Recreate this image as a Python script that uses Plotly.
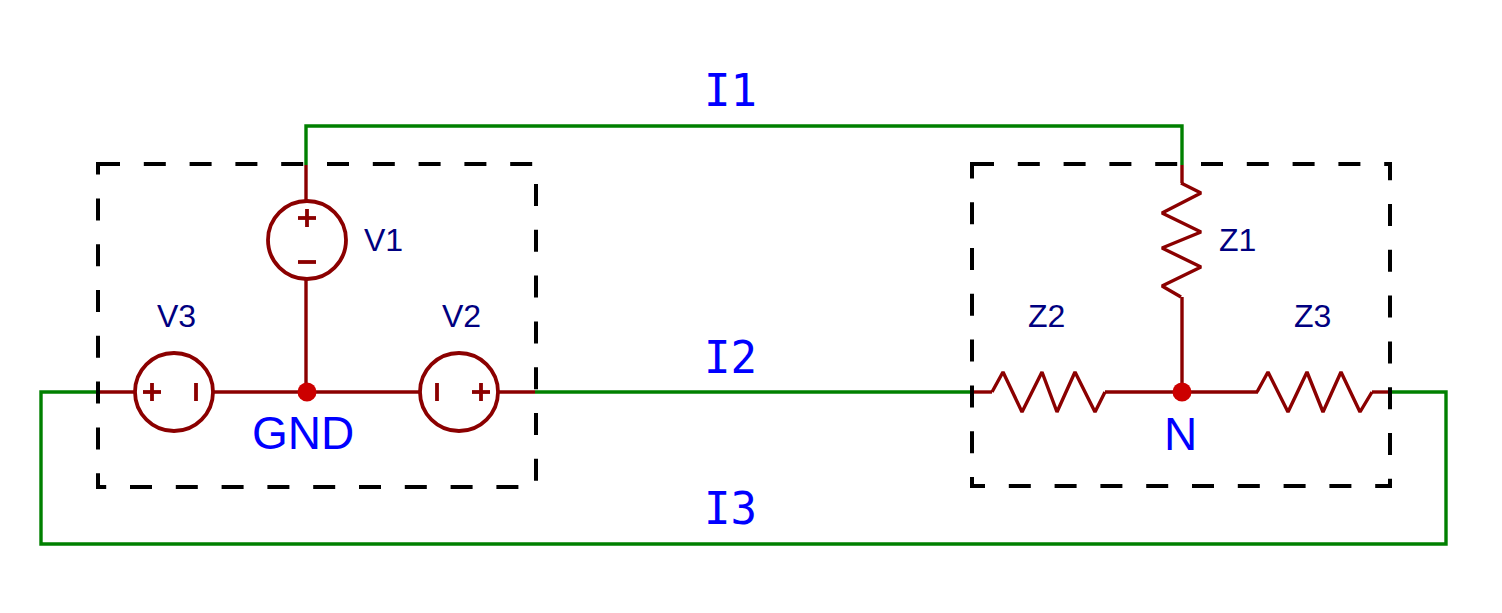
"""Esquema trifásico: fuentes en estrella (GND) y cargas en estrella (N)."""

import plotly.graph_objects as go

W, H = 1502, 613
PAD = 8  # margen del <body> en la página generada

GREEN = "#008000"
WIRE = "#8B0000"
DOT = "#CC0000"
NAVY = "#000080"
BLUE = "#0000FF"

# cables de línea (verde), coordenadas del dibujo en px
i1_x = [306, 306, 1182, 1182]
i1_y = [165, 126, 126, 165]
i2_x = [535, 972]
i2_y = [392, 392]
i3_x = [98, 41, 41, 1446, 1446, 1388]
i3_y = [392, 392, 544, 544, 392, 392]

# fuentes de tensión: centro y sentido del "+"
src_names = ["V1", "V2", "V3"]
src_cx = [307, 459, 174]
src_cy = [240, 392, 392]
src_plus = ["up", "right", "left"]
src_r = 39

# tramos rojos (tramos rectos dentro de las cajas)
red_x = [[306, 306], [306, 306], [98, 135], [213, 420], [498, 535],
         [1182, 1182], [1182, 1182], [972, 992], [1105, 1258], [1372, 1388]]
red_y = [[165, 201], [279, 392], [392, 392], [392, 392], [392, 392],
         [165, 183], [297, 392], [392, 392], [392, 392], [392, 392]]

# impedancias en zigzag
z1_x = [1181, 1201, 1162, 1201, 1162, 1201, 1162, 1181]
z1_y = [183, 193, 213, 232, 248, 267, 286, 297]
z2_x = [992, 1003, 1022, 1042, 1057, 1075, 1095, 1105]
z2_y = [392, 372, 412, 372, 412, 372, 412, 392]
z3_x = [1257, 1268, 1288, 1307, 1323, 1341, 1360, 1372]
z3_y = [392, 372, 412, 372, 412, 372, 412, 392]

# nodos
node_names = ["GND", "N"]
node_x = [307, 1182]
node_y = [392, 392]
node_lbl_y = [433, 434]
node_lbl_x = [303, 1180]

# cajas discontinuas [x0, x1, y0, y1]
boxes = [[98, 536, 164, 487], [972, 1390, 164, 486]]

# rótulos
comp_lbl = ["V1", "V3", "V2", "Z1", "Z2", "Z3"]
comp_lbl_x = [383, 176, 461, 1237, 1046, 1312]
comp_lbl_y = [240, 316, 316, 240, 316, 316]
cur_lbl = ["I1", "I2", "I3"]
cur_lbl_x = [730, 730, 730]
cur_lbl_y = [90, 357, 508]

fig = go.Figure()


def wire(xs, ys, color, width=3.4):
    fig.add_trace(go.Scatter(
        x=xs, y=ys, mode="lines", hoverinfo="skip", showlegend=False,
        line=dict(color=color, width=width),
    ))


for xs, ys in [(i1_x, i1_y), (i2_x, i2_y), (i3_x, i3_y)]:
    wire(xs, ys, GREEN)
for xs, ys in zip(red_x, red_y):
    wire(xs, ys, WIRE)
for xs, ys in [(z1_x, z1_y), (z2_x, z2_y), (z3_x, z3_y)]:
    wire(xs, ys, WIRE)

# fuentes: círculo + signos
for cx, cy, plus in zip(src_cx, src_cy, src_plus):
    fig.add_shape(type="circle", xref="x", yref="y",
                  x0=cx - src_r, x1=cx + src_r, y0=cy - src_r, y1=cy + src_r,
                  line=dict(color=WIRE, width=3.8))
    d, h = 22, 9
    if plus == "up":
        px, py, mx, my = cx, cy - d, cx, cy + d
        wire([px - h, px + h], [py, py], WIRE, 3.8)
        wire([px, px], [py - h, py + h], WIRE, 3.8)
        wire([mx - h, mx + h], [my, my], WIRE, 3.8)
    else:
        s = 1 if plus == "right" else -1
        px, mx = cx + s * d, cx - s * d
        wire([px - h, px + h], [cy, cy], WIRE, 3.8)
        wire([px, px], [cy - h, cy + h], WIRE, 3.8)
        wire([mx, mx], [cy - h, cy + h], WIRE, 3.8)

for x0, x1, y0, y1 in boxes:
    fig.add_shape(type="rect", xref="x", yref="y", x0=x0, x1=x1, y0=y0, y1=y1,
                  line=dict(color="black", width=4, dash="22px,23.8px"))

fig.add_trace(go.Scatter(
    x=node_x, y=node_y, mode="markers", hoverinfo="skip", showlegend=False,
    marker=dict(color=DOT, size=19, line=dict(width=0)),
))

for t, x, y in zip(comp_lbl, comp_lbl_x, comp_lbl_y):
    fig.add_annotation(x=x, y=y, text=t, showarrow=False,
                       font=dict(family="Liberation Sans, Arial", size=32, color=NAVY))
for t, x, y in zip(node_names, node_lbl_x, node_lbl_y):
    fig.add_annotation(x=x, y=y, text=t, showarrow=False,
                       font=dict(family="Liberation Sans, Arial", size=46, color=BLUE))
for t, x, y in zip(cur_lbl, cur_lbl_x, cur_lbl_y):
    fig.add_annotation(x=x, y=y, text=t, showarrow=False,
                       font=dict(family="DejaVu Sans Mono, monospace", size=44, color=BLUE))

# 1 unidad = 1 px de la ventana, descontando el margen del body
fig.update_xaxes(range=[PAD, W - PAD], visible=False, fixedrange=True)
fig.update_yaxes(range=[H - PAD, PAD], visible=False, fixedrange=True)
fig.update_layout(
    margin=dict(l=0, r=0, t=0, b=0),
    paper_bgcolor="white", plot_bgcolor="white",
    showlegend=False,
)

fig.write_html("out.html")
